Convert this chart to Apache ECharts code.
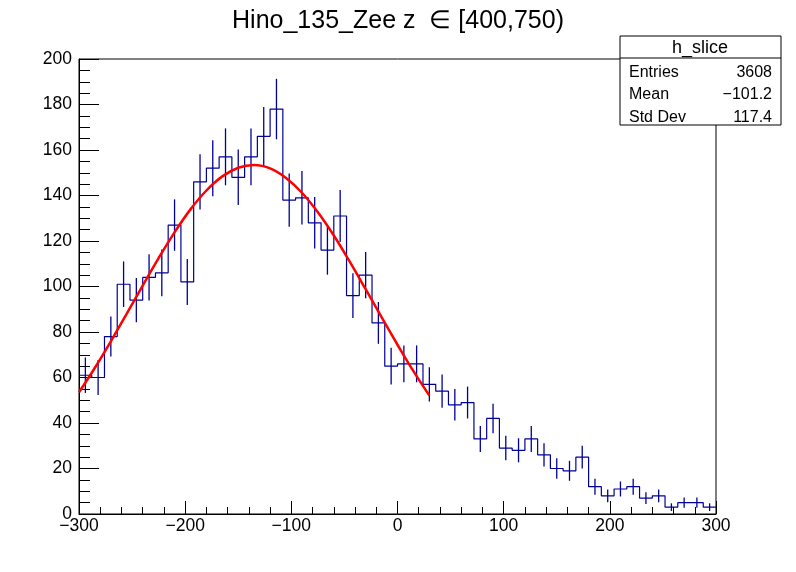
<!DOCTYPE html>
<html><head><meta charset="utf-8">
<script src="https://cdn.jsdelivr.net/npm/echarts@6/dist/echarts.min.js"></script>
<style>html,body{margin:0;padding:0;background:#fff}#c{width:796px;height:572px}</style>
</head><body><div id="c"></div>
<script>
// Histogram bins: low edges (width 12) and counts
const binWidth = 12;
const binLow = [-300,-288,-276,-264,-252,-240,-228,-216,-204,-192,
  -180,-168,-156,-144,-132,-120,-108,-96,-84,-72,
  -60,-48,-36,-24,-12,0,12,24,36,48,
  60,72,84,96,108,120,132,144,156,168,
  180,192,204,216,228,240,252,264,276,288];
const counts = [61,60,78,101,94,104,106,127,102,146,
  152,157,148,157,166,178,138,139,128,116,
  131,96,105,84,65,66,66,57,54,48,
  49,33,42,29,28,33,26,20,19,25,
  12,8,11,12,7,8,3,5,5,3];
const errors = [7.8,7.7,8.8,10.0,9.7,10.2,10.3,11.3,10.1,12.1,
  12.3,12.5,12.2,12.5,12.9,13.3,11.7,11.8,11.3,10.8,
  11.4,9.8,10.2,9.2,8.1,8.1,8.1,7.5,7.3,6.9,
  7.0,5.7,6.5,5.4,5.3,5.7,5.1,4.5,4.4,5.0,
  3.5,2.8,3.3,3.5,2.6,2.8,1.7,2.2,2.2,1.7];
// Fit curve
const fitX = [-300,-285,-270,-255,-240,-225,-210,-195,-180,-165,-150,-135,-120,-105,-90,-75,-60,-45,-30,-15,0,15,30];
const fitY = [53.5,64.3,75.9,88.1,100.4,112.5,123.8,133.9,142.2,148.4,152.2,153.4,151.9,147.7,141.2,132.6,122.4,110.9,98.8,86.5,74.4,62.8,52.1];
const xTicks = [-300,-200,-100,0,100,200,300];
const yTicks = [0,20,40,60,80,100,120,140,160,180,200];
const titleText = 'Hino_135_Zee z  \u2208 [400,750)';
const statsName = 'h_slice';
const statsRows = [['Entries','3608'],['Mean','\u2212101.2'],['Std Dev','117.4']];

const FONT = '"Liberation Sans", Arial, Helvetica, sans-serif';
const HCOL = '#000099';
const fmt = v => String(v).replace('-', '\u2212');

const stepData = binLow.map((x, i) => [x, counts[i]]);
stepData.push([binLow[binLow.length - 1] + binWidth, counts[counts.length - 1]]);
const errData = binLow.map((x, i) => [x + binWidth / 2, counts[i], errors[i]]);
const fitData = fitX.map((x, i) => [x, fitY[i]]);

const chart = echarts.init(document.getElementById('c'), null, {renderer: 'canvas'});
const statsGraphics = [
  {type: 'rect', shape: {x: 620, y: 36, width: 161, height: 89}, style: {fill: '#fff', stroke: '#000', lineWidth: 1}, z: 100},
  {type: 'line', shape: {x1: 620, y1: 58, x2: 781, y2: 58}, style: {stroke: '#000', lineWidth: 1}, z: 101},
  {type: 'text', x: 700, y: 48, style: {text: statsName, font: '18px ' + FONT, fill: '#000', textAlign: 'center', textVerticalAlign: 'middle'}, z: 101}
];
statsRows.forEach((r, i) => {
  const y = 72.5 + i * 22.3;
  statsGraphics.push({type: 'text', x: 629, y: y, style: {text: r[0], font: '16px ' + FONT, fill: '#000', textAlign: 'left', textVerticalAlign: 'middle'}, z: 101});
  statsGraphics.push({type: 'text', x: 772, y: y, style: {text: r[1], font: '16px ' + FONT, fill: '#000', textAlign: 'right', textVerticalAlign: 'middle'}, z: 101});
});

chart.setOption({
  animation: false,
  backgroundColor: '#fff',
  title: {text: titleText, left: 'center', top: 4, textStyle: {fontFamily: FONT, fontSize: 25, fontWeight: 'normal', color: '#000'}},
  grid: {left: 79, right: 80, top: 59, bottom: 58, show: true, borderColor: '#000', borderWidth: 1, backgroundColor: 'transparent'},
  xAxis: {
    type: 'value', min: -300, max: 300, interval: 100,
    axisLine: {show: true, onZero: false, lineStyle: {color: '#000', width: 1}},
    axisTick: {show: true, inside: true, length: 13, lineStyle: {color: '#000'}},
    minorTick: {show: true, splitNumber: 5, length: 7, lineStyle: {color: '#000'}},
    splitLine: {show: false},
    axisLabel: {color: '#000', fontFamily: FONT, fontSize: 17.5, margin: 3, formatter: v => xTicks.includes(v) ? fmt(v) : ''}
  },
  yAxis: {
    type: 'value', min: 0, max: 200, interval: 20,
    axisLine: {show: true, onZero: false, lineStyle: {color: '#000', width: 1}},
    axisTick: {show: true, inside: true, length: 20, lineStyle: {color: '#000'}},
    minorTick: {show: true, splitNumber: 4, length: 11, lineStyle: {color: '#000'}},
    splitLine: {show: false},
    axisLabel: {color: '#000', fontFamily: FONT, fontSize: 17.5, margin: 7, formatter: v => yTicks.includes(v) ? fmt(v) : ''}
  },
  series: [
    {type: 'line', data: stepData, step: 'end', symbol: 'none', lineStyle: {color: HCOL, width: 1.2}, z: 3},
    {type: 'custom', data: errData, z: 4, clip: true,
      renderItem: (params, api) => {
        const x = api.value(0), v = api.value(1), e = api.value(2);
        const p1 = api.coord([x, Math.max(0, v - e)]);
        const p2 = api.coord([x, v + e]);
        return {type: 'line', shape: {x1: p1[0], y1: p1[1], x2: p2[0], y2: p2[1]}, style: {stroke: HCOL, lineWidth: 1.3}};
      }},
    {type: 'line', data: fitData, smooth: 0.4, symbol: 'none', lineStyle: {color: '#ff0000', width: 2.5}, z: 5}
  ],
  graphic: statsGraphics
});
</script></body></html>
